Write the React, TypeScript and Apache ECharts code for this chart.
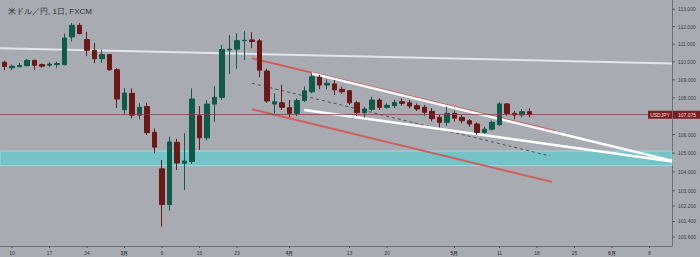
import React, { useEffect, useRef } from "react";
import * as echarts from "echarts";

// ---- Data (USD/JPY daily) ----
const dates = [
  "2/7", "2/10", "2/11", "2/12", "2/13", "2/14", "2/17", "2/18", "2/19", "2/20", "2/21",
  "2/24", "2/25", "2/26", "2/27", "2/28", "3/2", "3/3", "3/4", "3/5", "3/6",
  "3/9", "3/10", "3/11", "3/12", "3/13", "3/16", "3/17", "3/18", "3/19", "3/20",
  "3/23", "3/24", "3/25", "3/26", "3/27", "3/30", "3/31", "4/1", "4/2", "4/3",
  "4/6", "4/7", "4/8", "4/9", "4/10", "4/13", "4/14", "4/15", "4/16", "4/17",
  "4/20", "4/21", "4/22", "4/23", "4/24", "4/27", "4/28", "4/29", "4/30", "5/1",
  "5/4", "5/5", "5/6", "5/7", "5/8", "5/11", "5/12", "5/13", "5/14", "5/15",
];
const opens = [
  109.98, 109.67, 109.73, 109.79, 110.09, 109.85, 109.81, 109.85, 109.85, 111.41, 112.07,
  111.26, 110.65, 110.18, 110.41, 109.56, 107.35, 108.25, 107.05, 107.52, 106.12,
  104.16, 102.28, 105.58, 104.46, 104.55, 107.02, 105.82, 107.66, 108.03, 110.68,
  110.72, 111.2, 111.24, 111.19, 109.49, 107.66, 107.73, 107.46, 107.15, 107.85,
  108.34, 109.14, 108.71, 108.77, 108.47, 108.39, 107.73, 107.19, 107.37, 107.88,
  107.48, 107.57, 107.79, 107.73, 107.57, 107.48, 107.26, 106.93, 106.66, 107.15,
  106.93, 106.75, 106.57, 106.11, 106.29, 106.53, 107.67, 107.15, 107.06, 107.24,
];
const closes = [
  109.75, 109.76, 109.8, 110.09, 109.81, 109.76, 109.88, 109.91, 111.35, 112.07, 111.6,
  110.65, 110.18, 110.41, 109.56, 107.94, 108.27, 107.05, 107.48, 106.1, 105.32,
  102.28, 105.6, 104.47, 104.58, 107.94, 105.82, 107.66, 108.03, 110.7, 110.72,
  111.2, 111.22, 111.15, 109.54, 107.83, 107.79, 107.48, 107.15, 107.85, 108.39,
  109.17, 108.71, 108.81, 108.44, 108.34, 107.73, 107.19, 107.39, 107.88, 107.48,
  107.59, 107.75, 107.7, 107.55, 107.39, 107.21, 106.86, 106.66, 107.15, 106.89,
  106.75, 106.57, 106.11, 106.29, 106.66, 107.67, 107.15, 107.06, 107.24, 107.08,
];
const lows = [
  109.53, 109.53, 109.7, 109.75, 109.56, 109.68, 109.73, 109.67, 109.8, 111.15, 111.56,
  110.32, 109.94, 109.94, 109.51, 107.45, 107.08, 106.88, 106.82, 105.97, 104.99,
  101.13, 101.96, 104.1, 103.04, 104.42, 105.17, 105.69, 106.69, 107.88, 109.32,
  109.62, 110.1, 110.77, 109.15, 107.73, 107.15, 107.34, 106.93, 107.0, 107.78,
  108.25, 108.48, 108.48, 108.16, 108.22, 107.61, 107.0, 106.93, 107.26, 107.34,
  107.4, 107.45, 107.57, 107.42, 107.28, 107.02, 106.72, 106.38, 106.47, 106.71,
  106.6, 106.42, 105.99, 106.05, 106.22, 106.47, 107.02, 106.83, 106.93, 106.93,
];
const highs = [
  110.07, 109.85, 109.94, 110.15, 110.12, 109.91, 109.98, 110.02, 111.6, 112.2, 112.2,
  111.7, 111.07, 110.69, 110.45, 109.65, 108.55, 108.53, 107.7, 107.73, 106.33,
  104.63, 105.88, 105.77, 106.07, 108.52, 107.55, 107.88, 108.64, 110.95, 111.52,
  111.62, 111.73, 111.68, 111.28, 109.62, 108.25, 108.72, 107.88, 107.98, 108.63,
  109.36, 109.27, 109.03, 108.99, 108.62, 108.43, 107.84, 107.51, 108.07, 107.98,
  107.7, 107.9, 107.98, 107.88, 107.7, 107.61, 107.44, 107.11, 107.52, 107.29,
  107.07, 106.84, 106.66, 106.42, 106.75, 107.76, 107.71, 107.29, 107.39, 107.44,
];
const lastPrice = 107.075;

// Trend lines: [day index, price]
const resistanceLine = [[-0.6, 110.77], [89, 109.91]];
const upperRedLine = [[33, 110.2], [73.4, 106.19]];
const lowerRedLine = [[33, 107.37], [73, 103.47]];
const midDashedLine = [[33, 108.81], [72.7, 104.85]];
const upperWhiteLine = [[40.96, 109.36], [89, 104.59]];
const lowerWhiteLine = [[39.97, 107.34], [89, 104.55]];
const supportZone = [105.11, 104.33];

// Axis ticks
const yTicks = [113, 112, 111, 110, 109, 108, 106, 105, 104, 103, 102.2, 101.4, 100.6];
const xTickIndex = [1, 6, 11, 16, 21, 26, 31, 38, 46, 51, 60, 66, 71, 76, 81, 86];
const xTickLabels = ["10", "17", "24", "3月", "9", "16", "23", "4月", "13", "20", "5月", "11", "18", "25", "6月", "8"];
const xRange = [-0.6, 89];
const yRange = [100.14, 113.53];

const UP = "#0f5a48";
const DOWN = "#6a1818";
const FONT = "Liberation Sans, Arial, sans-serif";

export default function App() {
  const ref = useRef<HTMLDivElement>(null);
  useEffect(() => {
    document.body.style.margin = "0";
    const chart = echarts.init(ref.current!, null, { renderer: "svg" });
    const candles = dates.map((_, k) => [k, opens[k], closes[k], lows[k], highs[k]]);
    const lineSeries = (data: number[][], color: string, width: number, type: any = "solid") => ({
      type: "line",
      data,
      symbol: "none",
      silent: true,
      z: 2,
      lineStyle: { color, width, type },
    });
    chart.setOption({
      animation: false,
      backgroundColor: "#a9abb3",
      title: {
        text: "米ドル／円, 1日, FXCM",
        left: 3,
        top: 2,
        textStyle: { fontSize: 8, fontWeight: "normal", color: "#2e2e2e", fontFamily: FONT },
      },
      grid: { left: 0, right: 28, top: 0, bottom: 11, containLabel: false },
      xAxis: {
        type: "value",
        min: xRange[0],
        max: xRange[1],
        axisLine: { show: true, onZero: false, lineStyle: { color: "#6d6f77", width: 1 } },
        axisTick: { show: false },
        axisLabel: { show: false },
        splitLine: { show: false },
      },
      yAxis: {
        type: "log",
        logBase: 10,
        position: "right",
        min: yRange[0],
        max: yRange[1],
        axisLine: { show: true, onZero: false, lineStyle: { color: "#6d6f77", width: 1 } },
        axisTick: { show: false },
        axisLabel: { show: false },
        splitLine: { show: false },
      },
      series: [
        {
          type: "line",
          data: [],
          silent: true,
          z: 1,
          markArea: {
            silent: true,
            itemStyle: { color: "#74c4c7", borderColor: "#98dcdd", borderWidth: 1 },
            data: [[{ yAxis: supportZone[0] }, { yAxis: supportZone[1] }]],
          },
        },
        lineSeries(resistanceLine, "#e4e5ea", 2),
        lineSeries(upperRedLine, "#cf5d5b", 2),
        lineSeries(lowerRedLine, "#cf5d5b", 2),
        lineSeries(midDashedLine, "#505258", 1, [3, 3]),
        lineSeries(upperWhiteLine, "#ffffff", 2.5),
        lineSeries(lowerWhiteLine, "#ffffff", 2.5),
        {
          type: "candlestick",
          data: candles,
          encode: { x: 0, y: [1, 2, 3, 4] },
          barWidth: 5,
          z: 3,
          silent: true,
          itemStyle: { color: UP, color0: DOWN, borderColor: UP, borderColor0: DOWN, borderWidth: 1 },
          markLine: {
            silent: true,
            symbol: "none",
            label: { show: false },
            lineStyle: { color: "#7e4146", width: 1, type: "solid", opacity: 0.75 },
            data: [{ yAxis: lastPrice }],
          },
        },
        {
          type: "custom",
          coordinateSystem: "cartesian2d",
          silent: true,
          clip: false,
          z: 6,
          data: yTicks.map((v) => [0, v]),
          renderItem: (params: any, api: any) => {
            const cs = params.coordSys;
            const pt = api.coord([api.value(0), api.value(1)]);
            const xr = cs.x + cs.width;
            return {
              type: "group",
              children: [
                { type: "line", shape: { x1: xr, y1: pt[1], x2: xr + 3, y2: pt[1] }, style: { stroke: "#55575e", lineWidth: 1 } },
                {
                  type: "text",
                  x: xr + 6,
                  y: pt[1],
                  style: { text: Number(api.value(1)).toFixed(3), fill: "#3c3d42", font: `5px ${FONT}`, align: "left", verticalAlign: "middle" },
                },
              ],
            };
          },
        },
        {
          type: "custom",
          coordinateSystem: "cartesian2d",
          silent: true,
          clip: false,
          z: 6,
          data: xTickIndex.map((v) => [v, 105]),
          renderItem: (params: any, api: any) => {
            const cs = params.coordSys;
            const pt = api.coord([api.value(0), api.value(1)]);
            const yb = cs.y + cs.height;
            const label = xTickLabels[params.dataIndex];
            const bold = label.indexOf("月") >= 0;
            return {
              type: "group",
              children: [
                { type: "line", shape: { x1: pt[0], y1: yb, x2: pt[0], y2: yb + 2 }, style: { stroke: "#55575e", lineWidth: 1 } },
                {
                  type: "text",
                  x: pt[0],
                  y: yb + 6.5,
                  style: { text: label, fill: "#3c3d42", font: `${bold ? "bold " : ""}5px ${FONT}`, align: "center", verticalAlign: "middle" },
                },
              ],
            };
          },
        },
        {
          type: "custom",
          coordinateSystem: "cartesian2d",
          silent: true,
          clip: false,
          z: 7,
          data: [[0, lastPrice]],
          renderItem: (params: any, api: any) => {
            const cs = params.coordSys;
            const pt = api.coord([api.value(0), api.value(1)]);
            const xr = cs.x + cs.width;
            return {
              type: "group",
              children: [
                { type: "rect", shape: { x: xr - 24, y: pt[1] - 4, width: 24, height: 8 }, style: { fill: "#7a2020" } },
                { type: "rect", shape: { x: xr + 1, y: pt[1] - 4, width: 28, height: 8 }, style: { fill: "#7a2020" } },
                {
                  type: "text",
                  x: xr - 12,
                  y: pt[1],
                  style: { text: "USDJPY", fill: "#f1dede", font: `5px ${FONT}`, align: "center", verticalAlign: "middle" },
                },
                {
                  type: "text",
                  x: xr + 15,
                  y: pt[1],
                  style: { text: Number(api.value(1)).toFixed(3), fill: "#f1dede", font: `5px ${FONT}`, align: "center", verticalAlign: "middle" },
                },
              ],
            };
          },
        },
      ],
    });
    return () => chart.dispose();
  }, []);
  return <div ref={ref} style={{ position: "fixed", left: 0, top: 0, width: 700, height: 257 }} />;
}
